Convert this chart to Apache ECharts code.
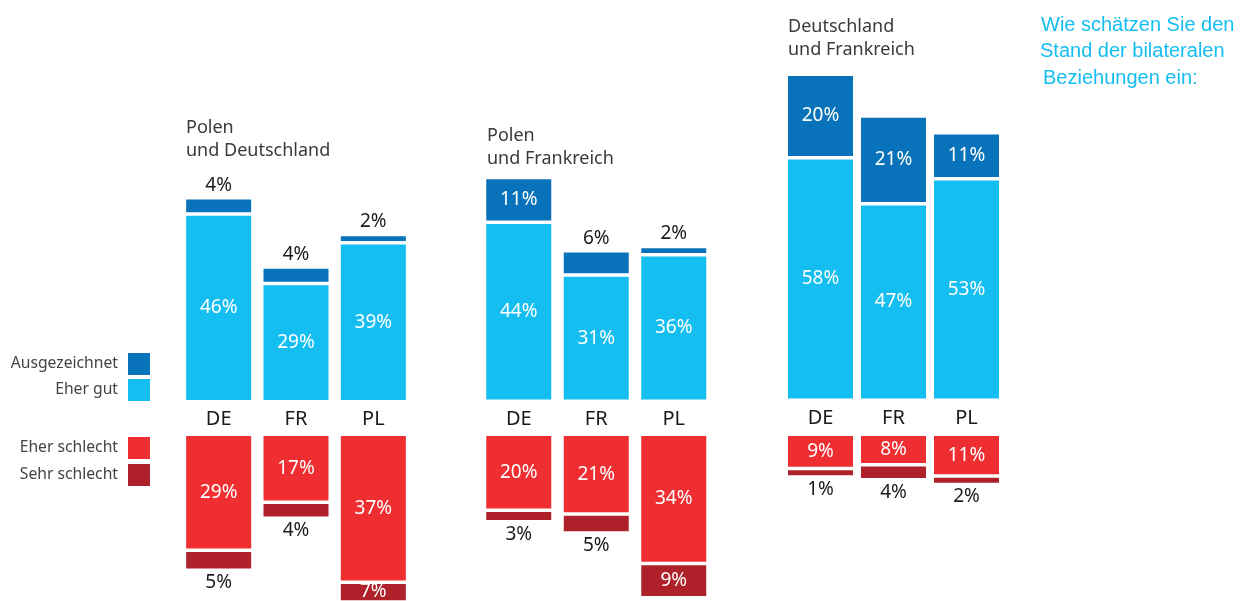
<!DOCTYPE html>
<html><head><meta charset="utf-8">
<script src="https://cdn.jsdelivr.net/npm/echarts@6/dist/echarts.min.js"></script>
<style>html,body{margin:0;padding:0;background:#fff}#c{width:1247px;height:601px}</style>
</head><body><div id="c"></div>
<script>
// ---- data ----
const groupTitles = ['Polen\nund Deutschland', 'Polen\nund Frankreich', 'Deutschland\nund Frankreich'];
const countries = ['DE', 'FR', 'PL'];
const seriesNames = ['Ausgezeichnet', 'Eher gut', 'Eher schlecht', 'Sehr schlecht'];
const ausgezeichnet = [[4, 4, 2], [11, 6, 2], [20, 21, 11]];
const eherGut = [[46, 29, 39], [44, 31, 36], [58, 47, 53]];
const eherSchlecht = [[29, 17, 37], [20, 21, 34], [9, 8, 11]];
const sehrSchlecht = [[5, 4, 7], [3, 5, 9], [1, 4, 2]];
const questionLines = ['Wie schätzen Sie den', 'Stand der bilateralen', 'Beziehungen ein:'];

// ---- style / layout ----
const FONT = '"Noto Sans", sans-serif';
const colors = ['#0873BA', '#14BEF0', '#EE2E31', '#AE212B'];
const BW = 1.75;               // white separator (border) width
const layout = [
  { left: 180, width: 232, base: 401.75, scale: 4.08, negScale: 4.0, tx: 186, ty: 116 },
  { left: 480, width: 232.5, base: 401.25, scale: 4.07, negScale: 3.8, tx: 487, ty: 124 },
  { left: 784, width: 219, base: 400.25, scale: 4.18, negScale: 3.8, tx: 788, ty: 15.5 }
];
const questionPos = [[1041, 15], [1040, 41.5], [1043, 68]];
const NEG_TOP = 434.25, POS_MAX = 90, CANVAS_H = 601, BAR_W = 65 + 2 * BW;

const insideLbl = { show: true, position: 'inside', color: '#fff', fontSize: 19, fontFamily: FONT, formatter: '{c}%' };
const outLbl = pos => ({ show: true, position: pos, distance: 3, color: '#1a1a1a', fontSize: 19, fontFamily: FONT, formatter: '{c}%' });
const items = (arr, outsidePos) => arr.map(v => ({ value: v, label: (outsidePos && v < 7) ? outLbl(outsidePos) : insideLbl }));

const grid = [], xAxis = [], yAxis = [], series = [], graphic = [];
layout.forEach((L, g) => {
  const ph = POS_MAX * L.scale, nh = CANVAS_H - NEG_TOP;
  grid.push({ left: L.left, width: L.width, top: L.base - ph, height: ph });
  grid.push({ left: L.left, width: L.width, top: NEG_TOP, height: nh });
  xAxis.push({ type: 'category', gridIndex: 2 * g, data: countries, axisLine: { show: false }, axisTick: { show: false },
    axisLabel: { fontSize: 20, color: '#1a1a1a', margin: 8, fontFamily: FONT } });
  xAxis.push({ type: 'category', gridIndex: 2 * g + 1, data: countries, show: false });
  yAxis.push({ type: 'value', gridIndex: 2 * g, min: 0, max: POS_MAX, show: false });
  yAxis.push({ type: 'value', gridIndex: 2 * g + 1, min: 0, max: nh / L.negScale, inverse: true, show: false });
  const common = { type: 'bar', barWidth: BAR_W, animation: false };
  const st = c => ({ color: c, borderColor: '#fff', borderWidth: BW });
  series.push(Object.assign({}, common, { name: seriesNames[1], xAxisIndex: 2 * g, yAxisIndex: 2 * g, stack: 'p' + g,
    itemStyle: st(colors[1]), data: items(eherGut[g], null) }));
  series.push(Object.assign({}, common, { name: seriesNames[0], xAxisIndex: 2 * g, yAxisIndex: 2 * g, stack: 'p' + g,
    itemStyle: st(colors[0]), data: items(ausgezeichnet[g], 'top') }));
  series.push(Object.assign({}, common, { name: seriesNames[2], xAxisIndex: 2 * g + 1, yAxisIndex: 2 * g + 1, stack: 'n' + g,
    itemStyle: st(colors[2]), data: items(eherSchlecht[g], null) }));
  series.push(Object.assign({}, common, { name: seriesNames[3], xAxisIndex: 2 * g + 1, yAxisIndex: 2 * g + 1, stack: 'n' + g,
    barMinHeight: 8.5, itemStyle: st(colors[3]), data: items(sehrSchlecht[g], 'bottom') }));
  graphic.push({ type: 'text', left: L.tx, top: L.ty,
    style: { text: groupTitles[g], fontSize: 18, lineHeight: 23, fontFamily: FONT, fill: '#3a3a3a' } });
});
questionLines.forEach((t, i) => {
  graphic.push({ type: 'text', left: questionPos[i][0], top: questionPos[i][1],
    style: { text: t, fontSize: 20, fontFamily: '"Liberation Sans", Arial, sans-serif', fill: '#14BEF0' } });
});

const legendCommon = { orient: 'vertical', align: 'right', right: 1097, padding: 0, itemWidth: 22, itemHeight: 22,
  icon: 'rect', selectedMode: false, itemStyle: { borderWidth: 0 },
  textStyle: { fontSize: 15.7, color: '#444', fontFamily: FONT, padding: [0, 5, 0, 0] } };

const chart = echarts.init(document.getElementById('c'), null, { renderer: 'canvas' });
chart.setOption({
  backgroundColor: '#fff',
  animation: false,
  legend: [
    Object.assign({}, legendCommon, { data: [seriesNames[0], seriesNames[1]], top: 353, itemGap: 4 }),
    Object.assign({}, legendCommon, { data: [seriesNames[2], seriesNames[3]], top: 437, itemGap: 5 })
  ],
  grid, xAxis, yAxis, series, graphic
});
</script></body></html>
